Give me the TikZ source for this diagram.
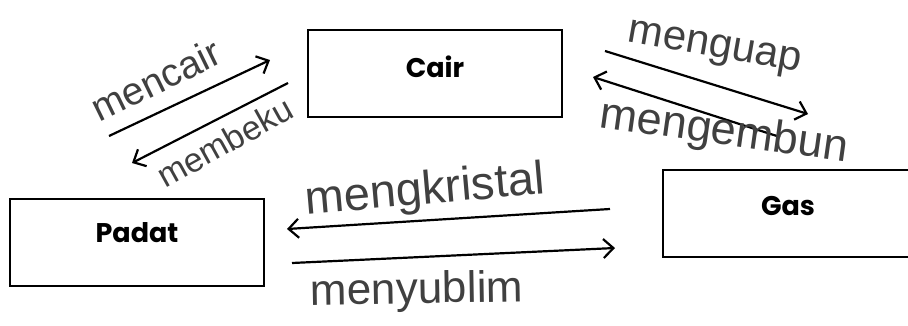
\documentclass[tikz,border=0pt]{standalone}
\usepackage{fontspec}
\setmainfont{Liberation Sans}
\newfontfamily\boxfont{Poppins}
\usetikzlibrary{arrows.meta}
\begin{document}
\begin{tikzpicture}[x=1pt,y=-1pt,
  statebox/.style={draw=black,line width=2pt,minimum width=254pt,minimum height=87pt,inner sep=0pt},
  boxlabel/.style={font=\boxfont\bfseries\fontsize{27}{30}\selectfont},
  flow/.style={line width=2.2pt,-{Straight Barb[length=10pt,width=19pt,line width=2.2pt]}},
  hand/.style={text=black!75,inner sep=0pt}]
\useasboundingbox (0,0) rectangle (908,325);
\clip (0,0) rectangle (908,325);
\fill[white] (0,0) rectangle (908,325);
% boxes
\node[statebox] (cair) at (435,73.5) {};
\node[boxlabel] (cairt) at (435,67) {Cair};
\node[statebox] (padat) at (137,242.5) {};
\node[boxlabel] (padatt) at (137,233) {Padat};
\node[statebox] (gas) at (790,213.5) {};
\node[boxlabel] (gast) at (788,206) {Gas};
% arrow end points
\coordinate (a1s) at (109,136); \coordinate (a1e) at (270,60);
\coordinate (a2s) at (288,83);  \coordinate (a2e) at (132,163);
\coordinate (a3s) at (605,51);  \coordinate (a3e) at (808,114);
\coordinate (a4s) at (780,137); \coordinate (a4e) at (593,77);
\coordinate (a5s) at (610,209); \coordinate (a5e) at (287,229);
\coordinate (a6s) at (292,263); \coordinate (a6e) at (615,248);
\draw[flow] (a1s) -- (a1e);
\draw[flow] (a2s) -- (a2e);
\draw[flow] (a3s) -- (a3e);
\draw[flow] (a4s) -- (a4e);
\draw[flow] (a5s) -- (a5e);
\draw[flow] (a6s) -- (a6e);
% labels
\node[hand,rotate=26,font=\fontsize{39}{41}\selectfont] (l1) at (156,80) {mencair};
\node[hand,rotate=29,font=\fontsize{34}{36}\selectfont] (l2) at (225,142) {membeku};
\node[hand,rotate=-10,font=\fontsize{42}{44}\selectfont] (l3) at (714,50) {menguap};
\node[hand,rotate=-8,font=\fontsize{45}{47}\selectfont] (l4) at (724,133) {mengembun};
\node[hand,rotate=5,font=\fontsize{47}{49}\selectfont] (l5) at (425,192) {mengkristal};
\node[hand,rotate=1,font=\fontsize{44}{46}\selectfont] (l6) at (417,292) {menyublim};
\end{tikzpicture}
\end{document}
